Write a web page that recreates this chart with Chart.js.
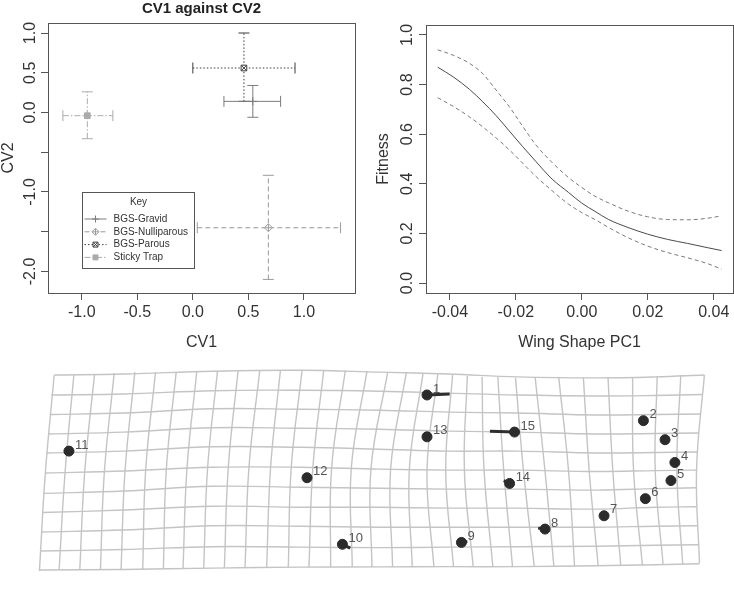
<!DOCTYPE html>
<html>
<head>
<meta charset="utf-8">
<script src="https://cdn.jsdelivr.net/npm/chart.js@4.4.1/dist/chart.umd.min.js"></script>
<style>
  html, body { margin: 0; padding: 0; background: #fff; }
  body { width: 734px; height: 595px; position: relative; overflow: hidden; }
  .panel { position: absolute; }
  #cvBox { left: 0; top: 0; width: 370px; height: 355px; }
  #fitBox { left: 370px; top: 0; width: 364px; height: 355px; }
  #wingBox { left: 0; top: 350px; width: 734px; height: 245px; }
</style>
</head>
<body>
<div class="panel" id="cvBox"><canvas id="cvChart"></canvas></div>
<div class="panel" id="fitBox"><canvas id="fitChart"></canvas></div>
<div class="panel" id="wingBox"><canvas id="wingChart"></canvas></div>
<script>
// ---- CV1 against CV2 (means with error bars) ----
const groups = ['BGS-Gravid', 'BGS-Nulliparous', 'BGS-Parous', 'Sticky Trap'];
const cv1Mean = [0.54, 0.68, 0.46, -0.95];
const cv1Low = [0.28, 0.04, 0.00, -1.17];
const cv1High = [0.79, 1.33, 0.92, -0.72];
const cv2Mean = [0.14, -1.45, 0.56, -0.04];
const cv2Low = [-0.06, -2.10, 0.14, -0.33];
const cv2High = [0.34, -0.79, 1.00, 0.26];
const cvXTicks = [-1, -0.5, 0, 0.5, 1];
const cvYTicks = [-2, -1.5, -1, -0.5, 0, 0.5, 1];
const cvYShown = [-2, -1, 0, 0.5, 1];

// ---- fitness against wing shape PC1 ----
const wingPC1 = [-0.0437, -0.039, -0.034, -0.030, -0.026, -0.022, -0.018, -0.014, -0.009, -0.004,
  0.000, 0.004, 0.008, 0.014, 0.020, 0.026, 0.032, 0.038, 0.0424];
const fitMean = [0.870, 0.831, 0.780, 0.730, 0.675, 0.613, 0.551, 0.491, 0.419, 0.365,
  0.322, 0.289, 0.257, 0.224, 0.197, 0.176, 0.160, 0.143, 0.131];
const fitUpper = [0.940, 0.918, 0.885, 0.843, 0.778, 0.711, 0.633, 0.558, 0.486, 0.425,
  0.385, 0.350, 0.324, 0.290, 0.267, 0.256, 0.255, 0.261, 0.271];
const fitLower = [0.747, 0.712, 0.669, 0.629, 0.585, 0.537, 0.484, 0.431, 0.372, 0.318,
  0.284, 0.256, 0.225, 0.183, 0.149, 0.123, 0.102, 0.079, 0.056];
const fitXTicks = [-0.04, -0.02, 0, 0.02, 0.04];
const fitYTicks = [0, 0.2, 0.4, 0.6, 0.8, 1.0];

// ---- deformation grid (vertical lines: top / middle / bottom knots) ----
const colTopX = [-3.21, -3.01, -2.80, -2.60, -2.39, -2.18, -1.97, -1.76, -1.55, -1.34, -1.12, -0.91, -0.69,
  -0.47, -0.25, -0.03, 0.18, 0.37, 0.54, 0.69, 0.84, 0.99, 1.14, 1.30, 1.48, 1.68, 1.92, 2.17, 2.42, 2.67, 2.92, 3.16, 3.40];
const colTopY = [1.00, 1.00, 1.01, 1.02, 1.03, 1.03, 1.03, 1.04, 1.04, 1.05, 1.05, 1.05, 1.05,
  1.05, 1.05, 1.04, 1.03, 1.03, 1.02, 1.01, 1.00, 0.99, 0.98, 0.98, 0.97, 0.97, 0.97, 0.97, 0.98, 0.98, 0.99, 1.00, 1.00];
const colMidX = [-3.30, -3.10, -2.90, -2.70, -2.49, -2.28, -2.07, -1.86, -1.65, -1.44, -1.23, -1.01, -0.80,
  -0.58, -0.39, -0.19, 0.01, 0.21, 0.40, 0.58, 0.77, 0.96, 1.16, 1.36, 1.56, 1.78, 2.02, 2.23, 2.47, 2.68, 2.90, 3.12, 3.32];
const colMidY = [-0.03, -0.03, -0.02, -0.02, -0.01, 0.00, 0.01, 0.02, 0.03, 0.03, 0.03, 0.03, 0.03,
  0.03, 0.02, 0.02, 0.01, 0.01, 0, 0, 0, 0, 0, 0, 0, -0.01, -0.02, -0.02, -0.02, -0.01, -0.01, 0, 0];
const colBotX = [-3.36, -3.16, -2.95, -2.74, -2.53, -2.31, -2.10, -1.90, -1.69, -1.48, -1.27, -1.05, -0.83,
  -0.62, -0.40, -0.18, 0.02, 0.23, 0.43, 0.65, 0.85, 1.05, 1.25, 1.45, 1.67, 1.87, 2.08, 2.32, 2.55, 2.77, 2.98, 3.18, 3.35];
const colBotY = [-1.06, -1.05, -1.05, -1.05, -1.04, -1.04, -1.04, -1.03, -1.03, -1.03, -1.03, -1.02, -1.02,
  -1.02, -1.02, -1.02, -1.02, -1.02, -1.02, -1.02, -1.02, -1.02, -1.02, -1.02, -1.01, -1.01, -1.01, -1.00, -1.00, -1.00, -0.99, -0.99, -0.98];

// horizontal lines: left end, inner knots, right end
const rowLeftX = [-3.21, -3.24, -3.25, -3.27, -3.29, -3.30, -3.32, -3.33, -3.34, -3.35, -3.36];
const rowRightX = [3.40, 3.38, 3.36, 3.34, 3.33, 3.32, 3.32, 3.32, 3.33, 3.34, 3.35];
const rowKnotX = [-2.5, -1.6, -0.7, 0.1, 0.8, 1.5, 2.3, 2.9];
const gridRowY = [
  [1.00, 1.01, 1.04, 1.05, 1.03, 1.01, 0.98, 0.97, 0.98, 1.00],
  [0.79, 0.80, 0.835, 0.84, 0.83, 0.81, 0.79, 0.78, 0.785, 0.795],
  [0.585, 0.60, 0.645, 0.64, 0.63, 0.61, 0.60, 0.58, 0.585, 0.59],
  [0.38, 0.40, 0.445, 0.44, 0.43, 0.41, 0.40, 0.38, 0.385, 0.39],
  [0.18, 0.20, 0.245, 0.24, 0.22, 0.20, 0.20, 0.18, 0.185, 0.19],
  [-0.03, -0.01, 0.03, 0.03, 0.01, 0.00, 0.00, -0.015, -0.005, 0.00],
  [-0.245, -0.22, -0.17, -0.18, -0.19, -0.20, -0.20, -0.21, -0.195, -0.185],
  [-0.445, -0.42, -0.38, -0.39, -0.39, -0.40, -0.40, -0.41, -0.39, -0.385],
  [-0.65, -0.63, -0.585, -0.59, -0.60, -0.60, -0.60, -0.60, -0.59, -0.585],
  [-0.85, -0.835, -0.805, -0.81, -0.815, -0.81, -0.805, -0.80, -0.79, -0.785],
  [-1.05, -1.045, -1.03, -1.02, -1.017, -1.015, -1.015, -1.005, -0.995, -0.985]
];

// landmarks and their shift vectors
const lmName = ['1', '2', '3', '4', '5', '6', '7', '8', '9', '10', '11', '12', '13', '14', '15'];
const lmX = [0.58, 2.78, 3.00, 3.10, 3.06, 2.80, 2.38, 1.78, 0.93, -0.28, -3.06, -0.64, 0.58, 1.42, 1.47];
const lmY = [0.79, 0.52, 0.32, 0.08, -0.11, -0.30, -0.48, -0.62, -0.76, -0.78, 0.20, -0.08, 0.35, -0.14, 0.40];
const vecX = [0.81, null, null, null, null, null, null, 1.71, 0.99, -0.20, -3.11, null, null, 1.36, 1.22];
const vecY = [0.80, null, null, null, null, null, null, -0.61, -0.75, -0.82, 0.19, null, null, -0.11, 0.41];

const FONT = '"Liberation Sans", Arial, sans-serif';
Chart.defaults.font.family = FONT;
Chart.defaults.color = '#333';
Chart.defaults.animation = false;
Chart.defaults.events = [];
Chart.defaults.plugins.legend.display = false;
Chart.defaults.plugins.tooltip.enabled = false;

const groupColor = ['#7c7c7c', '#9a9a9a', '#3c3c3c', '#ababab'];
const groupDash = [[], [5, 3], [1.5, 2], [6, 2, 1.5, 2]];
const markerA = ['cross', 'rectRot', 'rect', 'rect'];
const markerB = [null, 'cross', 'crossRot', null];
const markerFill = ['#fff', '#fff', '#fff', '#ababab'];

// box around the plot region
const frame = {
  id: 'frame',
  afterDraw(chart) {
    const { ctx, chartArea: a } = chart;
    ctx.save();
    ctx.strokeStyle = '#555';
    ctx.lineWidth = 1;
    ctx.strokeRect(Math.round(a.left) + 0.5, Math.round(a.top) + 0.5, Math.round(a.width), Math.round(a.height));
    ctx.restore();
  }
};

// "Key" legend, anchored at (-1, -1) in data units like R's legend(x, y)
const keyBox = {
  id: 'keyBox',
  afterDraw(chart) {
    const { ctx, scales: { x, y } } = chart;
    const left = Math.round(x.getPixelForValue(-1)) + 0.5;
    const top = Math.round(y.getPixelForValue(-1)) + 0.5;
    ctx.save();
    ctx.fillStyle = '#fff';
    ctx.fillRect(left, top, 112, 76);
    ctx.strokeStyle = '#555';
    ctx.lineWidth = 1;
    ctx.strokeRect(left, top, 112, 76);
    ctx.font = '10px ' + FONT;
    ctx.textBaseline = 'middle';
    ctx.textAlign = 'center';
    ctx.fillStyle = '#333';
    ctx.fillText('Key', left + 56, top + 10);
    groups.forEach((g, i) => {
      const ry = top + 26.5 + i * 12.8;
      ctx.strokeStyle = groupColor[i];
      ctx.setLineDash(groupDash[i]);
      ctx.beginPath();
      ctx.moveTo(left + 2, ry);
      ctx.lineTo(left + 24, ry);
      ctx.stroke();
      ctx.setLineDash([]);
      ctx.fillStyle = markerFill[i];
      Chart.helpers.drawPoint(ctx, { pointStyle: markerA[i], radius: 3.5, borderWidth: 1, rotation: 0 }, left + 13, ry);
      if (markerB[i]) {
        Chart.helpers.drawPoint(ctx, { pointStyle: markerB[i], radius: 3, borderWidth: 1, rotation: 0 }, left + 13, ry);
      }
      ctx.fillStyle = '#333';
      ctx.textAlign = 'left';
      ctx.fillText(g, left + 31, ry);
    });
    ctx.restore();
  }
};

// ---------- panel 1 ----------
const cvSets = [];
groups.forEach((g, i) => {
  const bar = {
    showLine: true, borderColor: groupColor[i], borderWidth: 1, borderDash: groupDash[i],
    pointStyle: 'line', pointRadius: 5.5, pointBorderColor: groupColor[i], pointBorderWidth: 1, order: 2
  };
  cvSets.push(Object.assign({}, bar, {
    label: g + ' CV1', pointRotation: 90,
    data: [{ x: cv1Low[i], y: cv2Mean[i] }, { x: cv1High[i], y: cv2Mean[i] }]
  }));
  cvSets.push(Object.assign({}, bar, {
    label: g + ' CV2', pointRotation: 0,
    data: [{ x: cv1Mean[i], y: cv2Low[i] }, { x: cv1Mean[i], y: cv2High[i] }]
  }));
  cvSets.push({
    label: g, data: [{ x: cv1Mean[i], y: cv2Mean[i] }], pointStyle: markerA[i], pointRadius: 4,
    pointBorderColor: groupColor[i], pointBackgroundColor: markerFill[i], pointBorderWidth: 1, order: 1
  });
  if (markerB[i]) {
    cvSets.push({
      label: g + ' mark', data: [{ x: cv1Mean[i], y: cv2Mean[i] }], pointStyle: markerB[i], pointRadius: 3.5,
      pointBorderColor: groupColor[i], pointBorderWidth: 1, order: 0
    });
  }
});

function axisBase() {
  return {
    type: 'linear',
    grid: { drawOnChartArea: false, tickLength: 7, color: '#555' },
    border: { display: false },
    ticks: { autoSkip: false, font: { size: 16 }, color: '#333', padding: 3 }
  };
}

new Chart(document.getElementById('cvChart'), {
  type: 'scatter',
  data: { datasets: cvSets },
  options: {
    responsive: true, maintainAspectRatio: false,
    layout: { padding: { top: 0, right: 15, left: 0, bottom: 0 } },
    plugins: {
      title: {
        display: true, text: 'CV1 against CV2', fullSize: false, color: '#222',
        font: { size: 15, weight: 'bold' }, padding: { top: 0, bottom: 5 }
      }
    },
    scales: {
      x: Object.assign(axisBase(), {
        min: -1.304, max: 1.46,
        afterBuildTicks: s => { s.ticks = cvXTicks.map(v => ({ value: v })); },
        afterFit: s => { s.height = 62; },
        title: { display: true, text: 'CV1', font: { size: 16 }, color: '#333', padding: { top: 0, bottom: 3 } }
      }),
      y: Object.assign(axisBase(), {
        min: -2.271, max: 1.126,
        afterBuildTicks: s => { s.ticks = cvYTicks.map(v => ({ value: v })); },
        afterFit: s => { s.width = 48; },
        title: { display: true, text: 'CV2', font: { size: 16 }, color: '#333', padding: { top: -1, bottom: 0 } }
      })
    }
  },
  plugins: [frame, keyBox]
});
(function () {
  const c = Chart.getChart('cvChart');
  c.options.scales.x.ticks.callback = v => v.toFixed(1);
  Object.assign(c.options.scales.y.ticks, {
    minRotation: 90, maxRotation: 90, crossAlign: 'center', padding: -3,
    callback: v => (cvYShown.includes(v) ? v.toFixed(1) : '')
  });
  c.update();
})();

// ---------- panel 2 ----------
function curve(ys) {
  return wingPC1.map((x, i) => ({ x: x, y: ys[i] }));
}
new Chart(document.getElementById('fitChart'), {
  type: 'scatter',
  data: {
    datasets: [
      { label: 'Fitness', data: curve(fitMean), showLine: true, borderColor: '#4a4a4a', borderWidth: 1,
        pointRadius: 0, cubicInterpolationMode: 'monotone' },
      { label: 'Upper', data: curve(fitUpper), showLine: true, borderColor: '#7a7a7a', borderWidth: 1,
        borderDash: [4, 3], pointRadius: 0, cubicInterpolationMode: 'monotone' },
      { label: 'Lower', data: curve(fitLower), showLine: true, borderColor: '#7a7a7a', borderWidth: 1,
        borderDash: [4, 3], pointRadius: 0, cubicInterpolationMode: 'monotone' }
    ]
  },
  options: {
    responsive: true, maintainAspectRatio: false,
    layout: { padding: { top: 25, right: 1, left: 0, bottom: 0 } },
    scales: {
      x: Object.assign(axisBase(), {
        min: -0.04725, max: 0.04585,
        afterBuildTicks: s => { s.ticks = fitXTicks.map(v => ({ value: v })); },
        afterFit: s => { s.height = 62; },
        title: { display: true, text: 'Wing Shape PC1', font: { size: 16 }, color: '#333', padding: { top: 0, bottom: 3 } }
      }),
      y: Object.assign(axisBase(), {
        min: -0.04, max: 1.04,
        afterBuildTicks: s => { s.ticks = fitYTicks.map(v => ({ value: v })); },
        afterFit: s => { s.width = 56; },
        title: { display: true, text: 'Fitness', font: { size: 16 }, color: '#333', padding: { top: 4, bottom: 0 } }
      })
    }
  },
  plugins: [frame]
});
(function () {
  const c = Chart.getChart('fitChart');
  c.options.scales.x.ticks.callback = v => v.toFixed(2);
  Object.assign(c.options.scales.y.ticks, {
    minRotation: 90, maxRotation: 90, crossAlign: 'center', padding: 0,
    callback: v => v.toFixed(1)
  });
  c.update();
})();

// ---------- panel 3 ----------
const gridColor = '#c4c4c4';
const wingSets = [];
colTopX.forEach((_, i) => {
  wingSets.push({
    label: 'col' + i, showLine: true, borderColor: gridColor, borderWidth: 1.4, pointRadius: 0, tension: 0.4, order: 3,
    data: [{ x: colTopX[i], y: colTopY[i] }, { x: colMidX[i], y: colMidY[i] }, { x: colBotX[i], y: colBotY[i] }]
  });
});
gridRowY.forEach((ys, r) => {
  const xs = [rowLeftX[r]].concat(rowKnotX, [rowRightX[r]]);
  wingSets.push({
    label: 'row' + r, showLine: true, borderColor: gridColor, borderWidth: 1.4, pointRadius: 0, tension: 0.4, order: 3,
    data: xs.map((x, k) => ({ x: x, y: ys[k] }))
  });
});
lmName.forEach((n, i) => {
  if (vecX[i] === null) return;
  wingSets.push({
    label: 'shift ' + n, showLine: true, borderColor: '#2e2e2e', borderWidth: 3, pointRadius: 0, order: 2,
    data: [{ x: lmX[i], y: lmY[i] }, { x: vecX[i], y: vecY[i] }]
  });
});
wingSets.push({
  label: 'landmarks', data: lmX.map((x, i) => ({ x: x, y: lmY[i] })), order: 1,
  pointRadius: 5, pointBackgroundColor: '#2b2b2b', pointBorderColor: '#2b2b2b', pointBorderWidth: 1
});

const lmLabels = {
  id: 'lmLabels',
  afterDatasetsDraw(chart) {
    const idx = chart.data.datasets.findIndex(d => d.label === 'landmarks');
    const meta = chart.getDatasetMeta(idx);
    const ctx = chart.ctx;
    ctx.save();
    ctx.font = '13px ' + FONT;
    ctx.fillStyle = '#555';
    ctx.textAlign = 'left';
    ctx.textBaseline = 'middle';
    meta.data.forEach((p, i) => ctx.fillText(lmName[i], p.x + 6, p.y - 6));
    ctx.restore();
  }
};

new Chart(document.getElementById('wingChart'), {
  type: 'scatter',
  data: { datasets: wingSets },
  options: {
    responsive: true, maintainAspectRatio: false,
    layout: { padding: 0 },
    scales: {
      x: { type: 'linear', display: false, min: -3.7, max: 3.64 },
      y: { type: 'linear', display: false, min: -1.25, max: 1.2 }
    }
  },
  plugins: [lmLabels]
});
</script>
</body>
</html>
